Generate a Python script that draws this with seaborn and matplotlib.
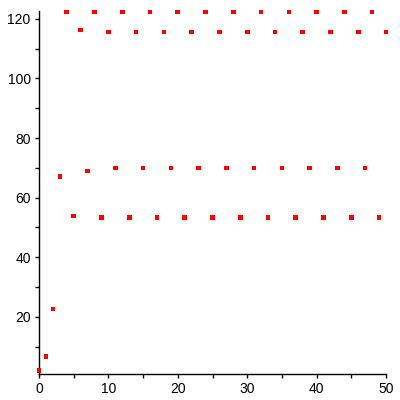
import numpy as np
import pandas as pd
import matplotlib
matplotlib.use('Agg')
import matplotlib.pyplot as plt
import seaborn as sns

sns.set_style('ticks')
plt.rcParams['font.family'] = ['Liberation Sans', 'DejaVu Sans']

# values, n = 0..50
n_values = list(range(0, 51))
y_values = [2.0, 6.7, 22.7, 67.0, 122.3, 53.8, 116.2, 69.0, 122.3, 53.4,
            115.6, 70.0, 122.3, 53.4, 115.6, 70.0, 122.3, 53.4, 115.6, 70.0,
            122.3, 53.4, 115.6, 70.0, 122.3, 53.4, 115.6, 70.0, 122.3, 53.4,
            115.6, 70.0, 122.3, 53.4, 115.6, 70.0, 122.3, 53.4, 115.6, 70.0,
            122.3, 53.4, 115.6, 70.0, 122.3, 53.4, 115.6, 70.0, 122.3, 53.4,
            115.6]

x_ticks = [0, 10, 20, 30, 40, 50]
y_ticks = [20, 40, 60, 80, 100, 120]

df = pd.DataFrame({'n': n_values, 'y': y_values})

fig = plt.figure(figsize=(4, 4), dpi=100)
ax = fig.add_axes([0.0975, 0.066, 0.8675, 0.9065])

sns.scatterplot(data=df, x='n', y='y', ax=ax, color='#ff0000', marker='s',
                s=11, linewidth=0, edgecolor='none', clip_on=False, zorder=3)

ax.set_xlim(0, 50)
ax.set_ylim(1.0, 122.6)
ax.set_xticks(x_ticks)
ax.set_yticks(y_ticks)
ax.set_xticks([5, 15, 25, 35, 45], minor=True)
ax.set_yticks([10, 30, 50, 70, 90, 110], minor=True)
ax.set_xlabel('')
ax.set_ylabel('')

for side in ['top', 'right']:
    ax.spines[side].set_visible(False)
for side in ['left', 'bottom']:
    ax.spines[side].set_linewidth(1.0)
    ax.spines[side].set_color('black')

ax.tick_params(which='major', length=3, width=1, pad=3, labelsize=10, colors='black')
ax.tick_params(which='minor', length=3, width=1, colors='black')

fig.savefig('out.png', dpi=100)
